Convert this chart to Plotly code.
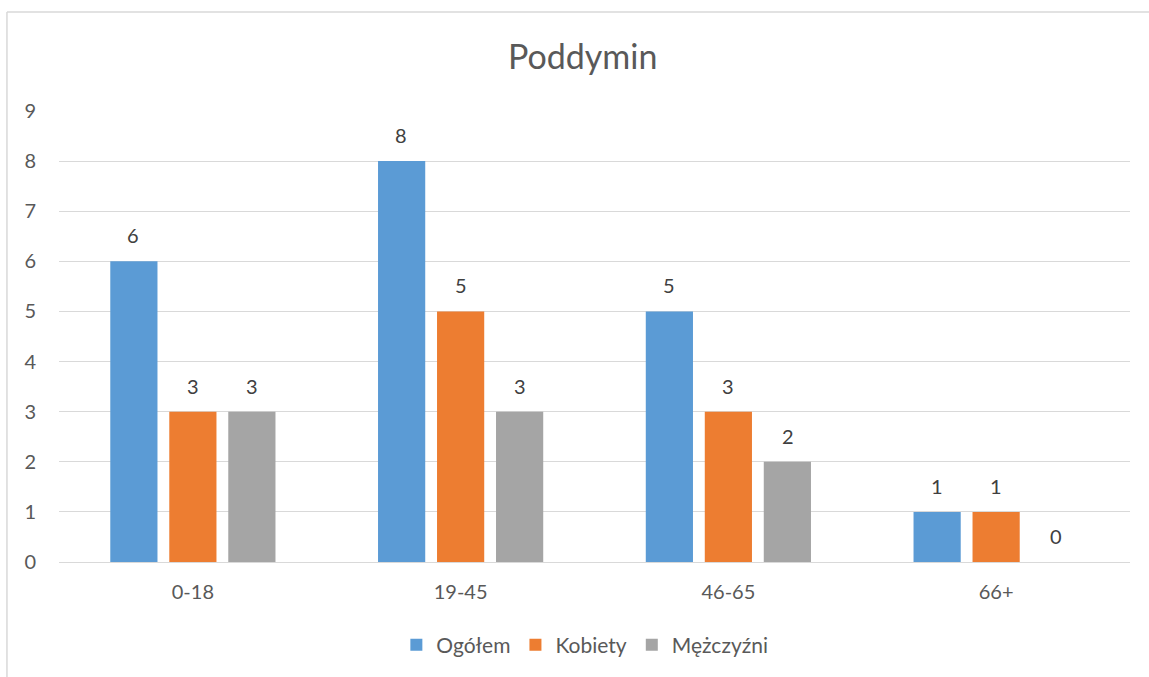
import plotly.graph_objects as go

categories = ["0-18", "19-45", "46-65", "66+"]
ogolem = [6, 8, 5, 1]
kobiety = [3, 5, 3, 1]
mezczyzni = [3, 3, 2, 0]
series_names = ["Ogółem", "Kobiety", "Mężczyźni"]
series_values = [ogolem, kobiety, mezczyzni]
colors = ["#5B9BD5", "#ED7D31", "#A5A5A5"]
y_ticks = list(range(0, 10))

FONT = "Lato"
TXT = "#595959"

fig = go.Figure()
for name, vals, col in zip(series_names, series_values, colors):
    fig.add_trace(go.Bar(x=categories, y=vals, name=name, marker_color=col,
                         marker_line_width=0))

annotations = []
for i, vals in enumerate(series_values):
    for c, v in zip(categories, vals):
        annotations.append(dict(x=c, y=v, xref="x", yref="y", text=str(v),
                                showarrow=False, xshift=(i - 1) * 59.5, yshift=26,
                                font=dict(family=FONT, size=20, color="#404040")))

fig.update_layout(
    width=1149, height=677,
    margin=dict(l=59, r=19, t=111, b=115),
    paper_bgcolor="white", plot_bgcolor="white",
    barmode="group", bargap=0.339, bargroupgap=0.2,
    title=dict(text="Poddymin", x=0.489, xref="paper", y=1 - 57 / 677, yanchor="middle",
               font=dict(family=FONT, size=34, color=TXT)),
    font=dict(family=FONT, size=20, color=TXT),
    xaxis=dict(showgrid=False, showline=False, ticks="", zeroline=False,
               tickfont=dict(family=FONT, size=20, color=TXT), ticklabelstandoff=16),
    yaxis=dict(range=[0, 9], tickvals=y_ticks, showgrid=True, gridcolor="#D9D9D9",
               gridwidth=1, zeroline=True, zerolinecolor="#D9D9D9", zerolinewidth=1,
               showline=False, ticks="", tickfont=dict(family=FONT, size=20, color=TXT),
               ticklabelstandoff=22),
    legend=dict(orientation="h", x=0.491, xanchor="center", y=-0.184, yanchor="middle",
                font=dict(family=FONT, size=21, color=TXT), itemwidth=30,
                tracegroupgap=0),
    annotations=annotations,
    shapes=[
        dict(type="line", xref="paper", yref="paper", x0=-0.0486, x1=-0.0486,
             y0=1.2195, y1=-0.4, line=dict(color="#D9D9D9", width=1.5)),
        dict(type="line", xref="paper", yref="paper", x0=-0.0486, x1=1.05,
             y0=1.2195, y1=1.2195, line=dict(color="#D9D9D9", width=1.5)),
    ],
)

fig.write_html("out.html", config={"displayModeBar": False},
               post_script="document.body.style.margin='0';document.body.style.overflow='hidden';")
